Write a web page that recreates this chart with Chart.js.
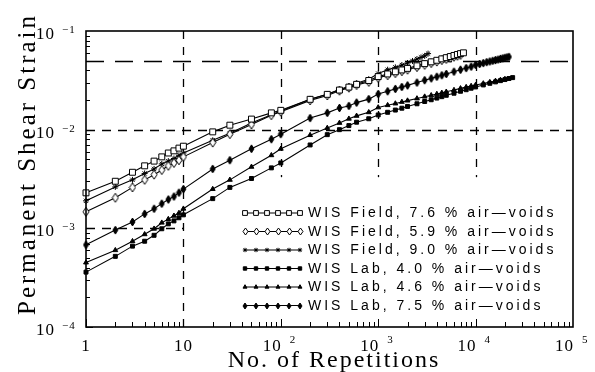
<!DOCTYPE html>
<html><head><meta charset="utf-8">
<script src="https://cdn.jsdelivr.net/npm/chart.js@4/dist/chart.umd.min.js"></script>
<style>html,body{margin:0;padding:0;background:#fff;overflow:hidden}canvas{display:block}</style>
</head><body><canvas id="c" width="595" height="372"></canvas>
<script>
// ---------------- data ----------------
const cyclesField76 = [1,2,3,4,5,6,7,8,9,10,20,30,50,80,100,200,300,400,500,600,800,1000,1250,1500,1750,2000,2500,3000,3500,4000,4500,5000,5500,6000,6500,7000,7500];
const strainField76 = [0.00229,0.0030,0.0037,0.0043,0.0048,0.0053,0.0058,0.0061,0.0065,0.0068,0.0095,0.0111,0.0128,0.0148,0.0157,0.0203,0.0228,0.0252,0.0270,0.0288,0.0315,0.0345,0.0367,0.0386,0.0403,0.0418,0.0444,0.0467,0.0487,0.0505,0.0522,0.0537,0.0551,0.0565,0.0578,0.0590,0.0601];

const cyclesField59 = [1,2,3,4,5,6,7,8,9,10,20,30,50,80,100,200,300,400,500,600,800,1000,1250,1500,1750,2000,2500,3000,3500,4000,4500,5000,5500,6000,6500,7000];
const strainField59 = [0.00147,0.00204,0.0026,0.0031,0.0035,0.0039,0.0043,0.0046,0.0049,0.0053,0.0074,0.0090,0.0113,0.0140,0.0152,0.0198,0.0222,0.0248,0.0266,0.0283,0.0305,0.0335,0.0356,0.0374,0.0391,0.0405,0.0431,0.0453,0.0473,0.0490,0.0507,0.0521,0.0535,0.0548,0.0561,0.0572];

const cyclesField90 = [1,2,3,4,5,6,7,8,9,10,20,30,50,80,100,200,300,400,500,600,800,1000,1250,1500,1750,2000,2250,2500,2750,3000,3250];
const strainField90 = [0.0019,0.00263,0.0031,0.0036,0.0040,0.0045,0.0048,0.0051,0.0055,0.0058,0.0078,0.0092,0.0117,0.0142,0.0155,0.0203,0.0229,0.0255,0.0275,0.0295,0.0325,0.0370,0.0405,0.0428,0.0452,0.0474,0.0497,0.0520,0.0540,0.0560,0.0590];

const cyclesLab40 = [1,2,3,4,5,6,7,8,9,10,20,30,50,80,100,200,300,400,500,600,800,1000,1250,1500,1750,2000,2500,3000,3500,4000,4500,5000,6000,7000,8000,9000,10000,12000,14000,16000,18000,20000,22000,24000];
const strainLab40 = [0.00036,0.00052,0.00066,0.00074,0.00085,0.00099,0.00111,0.00119,0.00128,0.00137,0.0020,0.0026,0.0032,0.0041,0.0046,0.0070,0.0089,0.0100,0.0110,0.0119,0.0129,0.0141,0.0150,0.0158,0.0165,0.0172,0.0183,0.0193,0.0201,0.0209,0.0216,0.0223,0.0234,0.0245,0.0254,0.0263,0.0271,0.0284,0.0295,0.0305,0.0314,0.0322,0.0330,0.0337];

const cyclesLab46 = [1,2,3,4,5,6,7,8,9,10,20,30,50,80,100,200,300,400,500,600,800,1000,1250,1500,1750,2000,2500,3000,3500,4000,4500,5000,6000,7000,8000,9000,10000,12000,14000,16000,18000,20000];
const strainLab46 = [0.00045,0.00060,0.00074,0.00087,0.00099,0.00114,0.00124,0.00134,0.00143,0.00158,0.0025,0.0031,0.0042,0.0055,0.0064,0.0088,0.0104,0.0117,0.0129,0.0138,0.0150,0.0168,0.0177,0.0184,0.0191,0.0197,0.0207,0.0216,0.0223,0.0230,0.0236,0.0242,0.0252,0.0262,0.0270,0.0277,0.0284,0.0294,0.0303,0.0312,0.0319,0.0326];

const cyclesLab75 = [1,2,3,4,5,6,7,8,9,10,20,30,50,80,100,200,300,400,500,600,800,1000,1250,1500,1750,2000,2500,3000,3500,4000,4500,5000,6000,7000,8000,9000,10000,11000,12000,13000,14000,15000,16000,17000,18000,19000,20000,21000,22000];
const strainLab75 = [0.00068,0.00096,0.00116,0.0014,0.00158,0.00178,0.00196,0.0021,0.0023,0.0025,0.0040,0.0049,0.0064,0.0080,0.0090,0.0131,0.0148,0.0166,0.0174,0.0188,0.0204,0.0230,0.0245,0.0259,0.0271,0.0281,0.0300,0.0317,0.0331,0.0344,0.0356,0.0367,0.0387,0.0405,0.0421,0.0435,0.0453,0.0463,0.0473,0.0483,0.0491,0.0499,0.0507,0.0514,0.0522,0.0528,0.0535,0.0541,0.0547];

const seriesLabels = [
  'WIS Field, 7.6 % air\u2014voids',
  'WIS Field, 5.9 % air\u2014voids',
  'WIS Field, 9.0 % air\u2014voids',
  'WIS Lab, 4.0 % air\u2014voids',
  'WIS Lab, 4.6 % air\u2014voids',
  'WIS Lab, 7.5 % air\u2014voids'
];
const xTickExponents = [0,1,2,3,4,5];      // 1, 10, 10^2 ... 10^5
const yTickExponents = [-1,-2,-3,-4];      // 10^-1 ... 10^-4
const xTitle = 'No. of Repetitions';
const yTitle = 'Permanent Shear Strain';

// reference (dashed) lines of the original figure
const hRefLines = [ {value:0.05, from:1, to:1e5, dash:[18,11]},
                    {value:0.01, from:1, to:1e5, dash:[9,7]},
                    {value:0.001, from:1, to:10, dash:[9,7]} ];
const vRefLines = [ {value:10, from:1e-4, to:0.1},
                    {value:100, from:0.0033, to:0.1},
                    {value:1000, from:0.0033, to:0.1},
                    {value:10000, from:0.0033, to:0.1} ];

// ---------------- marker styles ----------------
function diamondCanvas(w, h, filled) {
  const c = document.createElement('canvas');
  c.width = w + 2; c.height = h + 2;
  const g = c.getContext('2d');
  const cx = (w + 2) / 2, cy = (h + 2) / 2;
  g.beginPath();
  g.moveTo(cx, 1); g.lineTo(w + 1, cy); g.lineTo(cx, h + 1); g.lineTo(1, cy); g.closePath();
  g.fillStyle = filled ? '#000' : '#fff'; g.fill();
  g.strokeStyle = '#000'; g.lineWidth = 1; g.stroke();
  return c;
}
const openDiamond = diamondCanvas(6, 9, false);
const solidDiamond = diamondCanvas(5, 8, true);
const openDiamondSmall = diamondCanvas(5, 7, false);
const solidDiamondSmall = diamondCanvas(4, 6, true);

const markers = [
  {pointStyle:'rect', radius:4.2, fill:'#fff'},
  {pointStyle:openDiamond, radius:4, fill:'#fff'},
  {pointStyle:'star', radius:3, fill:'#000'},
  {pointStyle:'rect', radius:2.8, fill:'#000'},
  {pointStyle:'triangle', radius:2.8, fill:'#000'},
  {pointStyle:solidDiamond, radius:4, fill:'#000'}
];
const legendMarkers = [
  {pointStyle:'rect', radius:3.4, fill:'#fff'},
  {pointStyle:openDiamondSmall, radius:3, fill:'#fff'},
  {pointStyle:'star', radius:2.2, fill:'#000'},
  {pointStyle:'rect', radius:2.4, fill:'#000'},
  {pointStyle:'triangle', radius:2.3, fill:'#000'},
  {pointStyle:solidDiamondSmall, radius:3, fill:'#000'}
];

const seriesCycles = [cyclesField76, cyclesField59, cyclesField90, cyclesLab40, cyclesLab46, cyclesLab75];
const seriesStrain = [strainField76, strainField59, strainField90, strainLab40, strainLab46, strainLab75];

const datasets = seriesLabels.map((lab, i) => ({
  label: lab,
  data: seriesCycles[i].map((c, k) => ({x: c, y: seriesStrain[i][k]})),
  showLine: true,
  borderColor: '#000',
  borderWidth: 1.1,
  pointStyle: markers[i].pointStyle,
  pointRadius: markers[i].radius,
  pointBackgroundColor: markers[i].fill,
  pointBorderColor: '#000',
  pointBorderWidth: 1,
  tension: 0,
  clip: 8
}));

function drawMarker(ctx, m, x, y) {
  ctx.save();
  ctx.setLineDash([]);
  ctx.lineWidth = 1;
  ctx.strokeStyle = '#000';
  ctx.fillStyle = m.fill;
  const r = m.radius;
  if (typeof m.pointStyle !== 'string') {
    ctx.drawImage(m.pointStyle, Math.round(x - m.pointStyle.width / 2), Math.round(y - m.pointStyle.height / 2));
  } else if (m.pointStyle === 'rect') {
    const s = Math.SQRT1_2 * r;
    ctx.beginPath(); ctx.rect(x - s, y - s, 2 * s, 2 * s); ctx.fill(); ctx.stroke();
  } else if (m.pointStyle === 'triangle') {
    ctx.beginPath();
    ctx.moveTo(x, y - r);
    ctx.lineTo(x + r * 0.866, y + r * 0.5);
    ctx.lineTo(x - r * 0.866, y + r * 0.5);
    ctx.closePath(); ctx.fill(); ctx.stroke();
  } else if (m.pointStyle === 'star') {
    ctx.beginPath();
    ctx.moveTo(x - r, y); ctx.lineTo(x + r, y);
    ctx.moveTo(x, y - r); ctx.lineTo(x, y + r);
    const d = r * 0.707;
    ctx.moveTo(x - d, y - d); ctx.lineTo(x + d, y + d);
    ctx.moveTo(x - d, y + d); ctx.lineTo(x + d, y - d);
    ctx.stroke();
  }
  ctx.restore();
}

const SERIF = '"Liberation Serif", "Times New Roman", serif';
const SANS = '"Liberation Sans", Arial, sans-serif';

const decorPlugin = {
  id: 'decor',
  beforeDatasetsDraw(chart) {
    const {ctx, scales: {x, y}} = chart;
    ctx.save();
    ctx.strokeStyle = '#000';
    ctx.lineWidth = 1.3;
    for (const g of hRefLines) {
      ctx.setLineDash(g.dash);
      const py = Math.round(y.getPixelForValue(g.value)) + 0.5;
      ctx.beginPath();
      ctx.moveTo(x.getPixelForValue(g.from), py);
      ctx.lineTo(x.getPixelForValue(g.to), py);
      ctx.stroke();
    }
    ctx.setLineDash([8, 8]);
    for (const g of vRefLines) {
      const px = Math.round(x.getPixelForValue(g.value)) + 0.5;
      ctx.beginPath();
      ctx.moveTo(px, y.getPixelForValue(g.to));
      ctx.lineTo(px, y.getPixelForValue(g.from));
      ctx.stroke();
    }
    ctx.restore();
  },
  afterDraw(chart) {
    const {ctx, chartArea: a, scales: {x, y}} = chart;
    ctx.save();
    ctx.setLineDash([]);
    ctx.strokeStyle = '#000';
    // frame
    ctx.lineWidth = 1.6;
    ctx.strokeRect(a.left, a.top, a.right - a.left, a.bottom - a.top);
    // inward ticks
    ctx.lineWidth = 1;
    for (let d = 0; d < 5; d++) {
      for (let k = 1; k <= 9; k++) {
        const v = k * Math.pow(10, d);
        const px = Math.round(x.getPixelForValue(v)) + 0.5;
        const len = k === 1 ? 8 : 5;
        ctx.beginPath(); ctx.moveTo(px, a.bottom); ctx.lineTo(px, a.bottom - len); ctx.stroke();
      }
    }
    for (let d = -4; d < -1; d++) {
      for (let k = 1; k <= 9; k++) {
        const v = k * Math.pow(10, d);
        const py = Math.round(y.getPixelForValue(v)) + 0.5;
        const len = k === 1 ? 7 : 4;
        ctx.beginPath(); ctx.moveTo(a.left, py); ctx.lineTo(a.left + len, py); ctx.stroke();
      }
    }
    // tick labels
    ctx.fillStyle = '#000';
    ctx.textBaseline = 'alphabetic';
    for (const e of xTickExponents) {
      const px = x.getPixelForValue(Math.pow(10, e));
      ctx.font = '17px ' + SERIF;
      ctx.letterSpacing = '1px';
      if (e === 0) { ctx.textAlign = 'center'; ctx.fillText('1', px, 351); }
      else if (e === 1) { ctx.textAlign = 'center'; ctx.fillText('10', px, 351); }
      else {
        ctx.textAlign = 'right'; ctx.fillText('10', px + 1, 351);
        ctx.font = '11px ' + SERIF; ctx.letterSpacing = '0px';
        ctx.textAlign = 'left'; ctx.fillText(String(e), px + 9, 343);
      }
    }
    for (const e of yTickExponents) {
      const py = y.getPixelForValue(Math.pow(10, e));
      ctx.font = '17px ' + SERIF; ctx.letterSpacing = '1px';
      ctx.textAlign = 'right'; ctx.fillText('10', 55, py + 8);
      ctx.font = '11px ' + SERIF; ctx.letterSpacing = '1px';
      ctx.textAlign = 'left'; ctx.fillText('\u2212' + String(-e), 62, py + 2);
    }
    // axis titles
    ctx.font = '24px ' + SERIF; ctx.letterSpacing = '2px';
    ctx.textAlign = 'center';
    ctx.fillText(xTitle, 334, 367);
    ctx.save();
    ctx.translate(35, 164);
    ctx.rotate(-Math.PI / 2);
    ctx.font = '25px ' + SERIF; ctx.letterSpacing = '3px';
    ctx.fillText(yTitle, 0, 0);
    ctx.restore();
    // legend
    const rowY0 = 213, rowDy = 18.5, sx0 = 245, sx1 = 300;
    seriesLabels.forEach((lab, i) => {
      const ry = rowY0 + i * rowDy;
      ctx.lineWidth = 1.1;
      ctx.beginPath(); ctx.moveTo(sx0, ry); ctx.lineTo(sx1, ry); ctx.stroke();
      for (let k = 0; k < 6; k++) drawMarker(ctx, legendMarkers[i], sx0 + k * (sx1 - sx0) / 5, ry);
      ctx.font = '14px ' + SANS; ctx.letterSpacing = '3px';
      ctx.textAlign = 'left'; ctx.textBaseline = 'middle';
      ctx.fillText(lab, 308, ry + 0.5);
      ctx.textBaseline = 'alphabetic';
    });
    ctx.restore();
  }
};

new Chart(document.getElementById('c'), {
  type: 'scatter',
  data: { datasets },
  options: {
    responsive: false,
    animation: false,
    devicePixelRatio: 1,
    layout: { padding: { top: 31, right: 22, left: 0, bottom: 0 } },
    plugins: { legend: { display: false }, tooltip: { enabled: false } },
    scales: {
      x: { type: 'logarithmic', min: 1, max: 100000,
           grid: { display: false }, border: { display: false },
           ticks: { display: false },
           afterFit: s => { s.height = 45; } },
      y: { type: 'logarithmic', min: 0.0001, max: 0.1,
           grid: { display: false }, border: { display: false },
           ticks: { display: false },
           afterFit: s => { s.width = 86; } }
    }
  },
  plugins: [decorPlugin]
});
</script>
</body></html>
